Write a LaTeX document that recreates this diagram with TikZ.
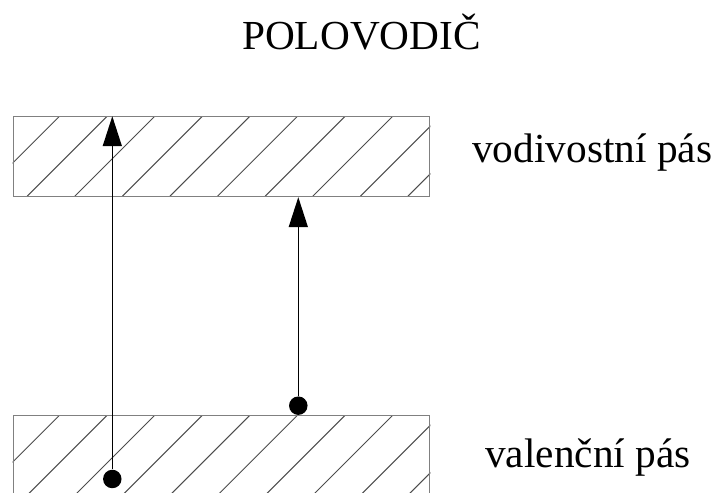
\documentclass[tikz,border=0pt]{standalone}
\usepackage{fontspec}
\setmainfont{Liberation Serif}
\usepackage{tikz}
\usetikzlibrary{positioning, arrows.meta, calc}

\begin{document}
\begin{tikzpicture}[
    x=0.02cm, y=0.02cm,
    pas/.style={
        rectangle, draw=gray, line width=0.55pt,
        minimum width=8.34cm, minimum height=1.6cm,
        inner sep=0pt
    },
    srafa/.style={draw=black!70, line width=0.55pt},
    sipka/.style={-{Triangle[length=0.6cm, width=0.38cm]}, line width=0.85pt, color=black},
    elektron/.style={circle, fill=black, minimum size=0.37cm, inner sep=0pt},
    popis/.style={font=\fontsize{23.5}{28}\selectfont, inner sep=0pt}
]
\useasboundingbox (0,0) rectangle (721,493);

\node[pas] (vodivost) at (221.5,336.3) {};
\node[pas] (valence) at (221.5,37.3) {};

% srafovani pasu
\foreach \p in {vodivost, valence} {
    \begin{scope}
        \clip (\p.south west) rectangle (\p.north east);
        \foreach \k in {0,...,9}
            \draw[srafa] ($(\p.north west)+({47+47.6*\k},0)$) -- ++(-80,-80);
    \end{scope}
}
\node[pas] at (vodivost) {};
\node[pas] at (valence) {};

\node[popis, anchor=base] (nadpis) at (361.5,443) {POLOVODIČ};
\node[popis, anchor=base west] (vodtext) at (472,330) {vodivostní pás};
\node[popis, anchor=base west] (valtext) at (485,25) {valenční pás};

\node[elektron] (e1) at (112.3,14) {};
\node[elektron] (e2) at (298.3,87.3) {};

\draw[sipka] (e1) -- (e1 |- vodivost.north);
\draw[sipka] (e2) -- (e2 |- vodivost.south);
\end{tikzpicture}
\end{document}
